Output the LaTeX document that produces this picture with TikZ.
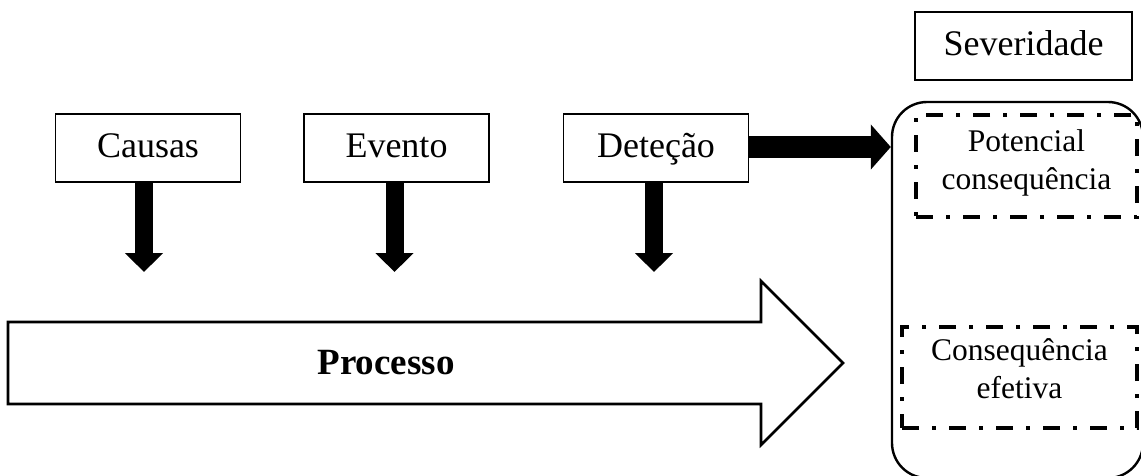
\documentclass[tikz,border=0pt]{standalone}
\usepackage{fontspec}
\setmainfont{Liberation Serif}
\usetikzlibrary{arrows.meta}

\tikzset{
  labelbox/.style={draw, line width=1.6pt, minimum width=185pt, minimum height=68pt,
    inner sep=0pt, text height=25pt, text depth=7pt, font=\fontsize{36}{43}\selectfont},
  dashframe/.style={draw, line width=4pt, line cap=butt, inner sep=0pt,
    dash pattern=on 17pt off 13pt on 4pt off 13pt},
  inlabel/.style={align=center, inner sep=0pt, font=\fontsize{31.5}{37.5}\selectfont},
  fatdown/.style={line width=18pt, -{Triangle[length=19pt,width=37pt]}},
  fatright/.style={line width=22pt, -{Triangle[length=20pt,width=44pt]}},
}

\begin{document}
\begin{tikzpicture}[x=1pt,y=-1pt]
\useasboundingbox (0,0) rectangle (1141,475);

% stages of the process
\node[labelbox] (causas) at (148,148) {Causas};
\node[labelbox] (evento) at (396.5,148) {Evento};
\node[labelbox] (detecao) at (656,148) {Deteção};

% severity column (its frame runs off the right and bottom edges)
\node[labelbox, minimum width=217pt] (sev) at (1023.5,46) {Severidade};
\node[draw, line width=2.4pt, rounded corners=35pt, minimum width=251pt,
      minimum height=376pt, inner sep=0pt] (frame) at (1017.5,290) {};

\node[dashframe, minimum width=221pt, minimum height=102pt] (potbox) at (1026.5,166) {};
\node[inlabel] (pot) at ([yshift=3pt]potbox.center) {Potencial\\consequência};

\node[dashframe, minimum width=235pt, minimum height=101pt] (efbox) at (1019.5,377.5) {};
\node[inlabel] (ef) at ([yshift=9pt]efbox.center) {Consequência\\efetiva};

% the process as a wide hollow arrow
\draw[line width=2.6pt, line join=miter]
  (8,322) -- (761,322) -- (761,281) -- (843,363) -- (761,445) -- (761,404) -- (8,404) -- cycle;
\node[font=\fontsize{37}{44}\selectfont\bfseries] (proc) at (386,363) {Processo};

% down arrows from each stage into the process
\coordinate (ctip) at (144,272);
\coordinate (etip) at (394.5,272);
\coordinate (dtip) at (654,272);
\draw[fatdown] ([xshift=-4pt]causas.south) -- (ctip);
\draw[fatdown] ([xshift=-2pt]evento.south) -- (etip);
\draw[fatdown] ([xshift=-2pt]detecao.south) -- (dtip);

% detection leads to the consequences
\draw[fatright] ([yshift=1pt]detecao.east) -- ([yshift=1pt]detecao.east -| frame.west);
\end{tikzpicture}
\end{document}
